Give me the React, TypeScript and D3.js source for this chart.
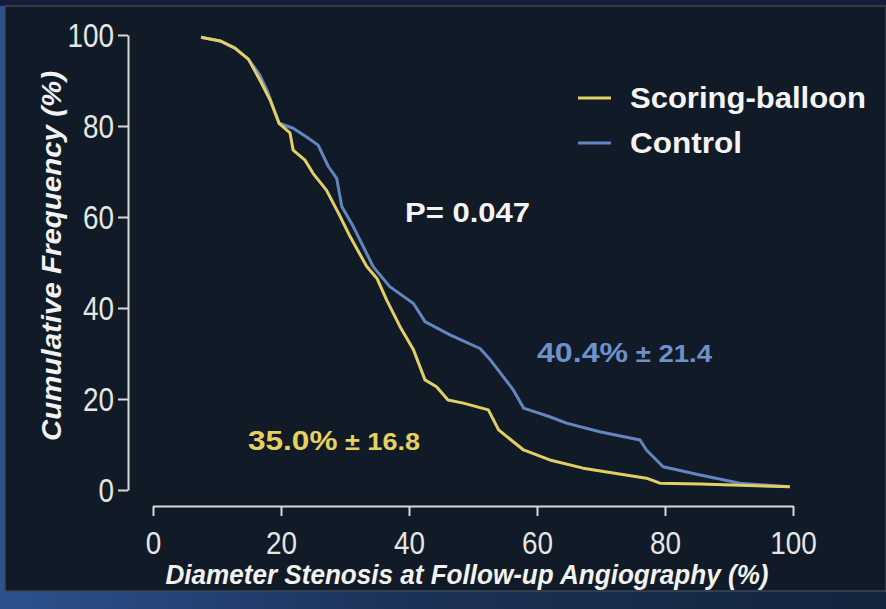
import React, { useEffect, useRef } from 'react';
import * as d3 from 'd3';

// cumulative frequency curves
const scoringX = [7.5, 10.5, 12.8, 14.9, 16.7, 18.3, 19.7, 21.4, 21.9, 23.75, 25.0, 27.1, 29.0, 30.8, 33.4, 35.0, 36.5, 38.6, 40.7, 42.5, 44.3, 46.1, 48.5, 52.4, 54.0, 57.9, 62.0, 67.2, 77.1, 79.2, 85.5, 99.5];
const scoringY = [99.5, 98.7, 97.1, 94.7, 90.1, 85.7, 80.6, 78.5, 74.7, 72.5, 69.6, 65.9, 60.8, 55.7, 49.1, 46.5, 41.8, 35.9, 30.8, 24.2, 22.7, 19.8, 19.1, 17.6, 13.2, 8.8, 6.6, 4.8, 2.6, 1.5, 1.3, 0.7];

const controlX = [7.5, 10.5, 12.8, 14.9, 16.7, 17.8, 19.7, 21.9, 24.0, 25.8, 27.4, 28.7, 29.5, 31.3, 34.4, 37.0, 40.7, 42.5, 46.4, 51.1, 52.7, 56.3, 57.9, 62.0, 64.6, 69.8, 76.1, 77.1, 79.7, 85.5, 91.7, 99.5];
const controlY = [99.5, 98.7, 97.1, 94.7, 91.2, 87.9, 80.6, 79.5, 77.6, 75.8, 71.1, 68.5, 62.3, 57.9, 49.1, 44.7, 41.0, 37.0, 34.1, 31.1, 28.6, 22.0, 18.0, 16.1, 14.7, 12.8, 11.0, 8.8, 5.1, 3.3, 1.5, 0.7];

const xTicks = [0, 20, 40, 60, 80, 100];
const yTicks = [0, 20, 40, 60, 80, 100];

const seriesNames = ['Scoring-balloon', 'Control'];
const seriesColors = ['#e3d064', '#6385c0'];

const SANS = '"Liberation Sans", Arial, sans-serif';

export default function App() {
  const svgRef = useRef<SVGSVGElement | null>(null);

  useEffect(() => {
    document.body.style.margin = '0';
    if (!svgRef.current) return;
    const W = 886;
    const H = 609;
    const svg = d3.select(svgRef.current);
    svg.selectAll('*').remove();
    svg.attr('width', W).attr('height', H);

    // slide background + frame
    const grad = svg.append('defs').append('linearGradient').attr('id', 'bottomGrad')
      .attr('x1', '0%').attr('x2', '100%');
    grad.append('stop').attr('offset', '0%').attr('stop-color', '#2c5290');
    grad.append('stop').attr('offset', '45%').attr('stop-color', '#1c3258');
    grad.append('stop').attr('offset', '100%').attr('stop-color', '#13243c');
    svg.append('rect').attr('width', W).attr('height', H).attr('fill', 'url(#bottomGrad)');
    svg.append('rect').attr('x', 0).attr('y', 0).attr('width', W).attr('height', 6).attr('fill', '#141c3a');
    svg.append('rect').attr('x', 5).attr('y', 6).attr('width', W - 5).attr('height', 585)
      .attr('fill', '#111b27').attr('stroke', '#3b4756').attr('stroke-width', 1.5);

    const x = d3.scaleLinear().domain([0, 100]).range([153, 793]);
    const y = d3.scaleLinear().domain([0, 100]).range([490, 35]);

    // condensed look for tick labels: squeeze each label to ~15.5px per digit
    const squeeze = (sel: d3.Selection<any, any, any, any>) => {
      sel.each(function () {
        const t = d3.select(this as SVGTextElement);
        t.attr('textLength', t.text().length * 15.5).attr('lengthAdjust', 'spacingAndGlyphs');
      });
    };

    // y axis
    const yAxis = svg.append('g').attr('transform', 'translate(128,0)')
      .call(d3.axisLeft(y).tickValues(yTicks).tickSize(10).tickSizeOuter(0).tickPadding(4));
    yAxis.select('.domain').attr('stroke', '#d9d9d9').attr('stroke-width', 2);
    yAxis.selectAll('line').attr('stroke', '#d9d9d9').attr('stroke-width', 2);
    yAxis.selectAll('text').attr('fill', '#e6e6e6').attr('font-size', 33).attr('font-family', SANS)
      .attr('dy', '0.36em').call(squeeze);

    // x axis
    const xAxis = svg.append('g').attr('transform', 'translate(0,506)')
      .call(d3.axisBottom(x).tickValues(xTicks).tickSize(10).tickSizeOuter(0).tickPadding(15));
    xAxis.select('.domain').attr('stroke', '#d9d9d9').attr('stroke-width', 2);
    xAxis.selectAll('line').attr('stroke', '#d9d9d9').attr('stroke-width', 2);
    xAxis.selectAll('text').attr('fill', '#e6e6e6').attr('font-size', 32).attr('font-family', SANS)
      .call(squeeze);

    // axis titles
    svg.append('text').attr('x', 467).attr('y', 584).attr('text-anchor', 'middle')
      .attr('fill', '#f2f2f2').attr('font-size', 27).attr('font-weight', 'bold').attr('font-style', 'italic')
      .attr('font-family', SANS).attr('textLength', 603).attr('lengthAdjust', 'spacingAndGlyphs')
      .text('Diameter Stenosis at Follow-up Angiography (%)');
    svg.append('text').attr('transform', 'translate(61,256) rotate(-90)').attr('text-anchor', 'middle')
      .attr('fill', '#f2f2f2').attr('font-size', 27).attr('font-weight', 'bold').attr('font-style', 'italic')
      .attr('font-family', SANS).attr('textLength', 370).attr('lengthAdjust', 'spacingAndGlyphs')
      .text('Cumulative Frequency (%)');

    // curves
    const line = d3.line<[number, number]>().x((d) => x(d[0])).y((d) => y(d[1]));
    const series = [
      d3.zip(scoringX, scoringY) as [number, number][],
      d3.zip(controlX, controlY) as [number, number][],
    ];
    // draw control first so scoring-balloon sits on top
    [1, 0].forEach((i) => {
      svg.append('path').datum(series[i]).attr('d', line).attr('fill', 'none')
        .attr('stroke', seriesColors[i]).attr('stroke-width', 3).attr('stroke-linejoin', 'round');
    });

    // legend
    seriesNames.forEach((name, i) => {
      const ly = 98 + i * 45;
      svg.append('line').attr('x1', 578).attr('x2', 611).attr('y1', ly).attr('y2', ly)
        .attr('stroke', seriesColors[i]).attr('stroke-width', 3);
      svg.append('text').attr('x', 630).attr('y', ly + 10).attr('fill', '#f4f4f4')
        .attr('font-size', 29).attr('font-weight', 'bold').attr('font-family', SANS)
        .attr('textLength', i === 0 ? 236 : 112).attr('lengthAdjust', 'spacingAndGlyphs')
        .text(name);
    });

    // annotations
    svg.append('text').attr('x', 405).attr('y', 222).attr('fill', '#f4f4f4')
      .attr('font-size', 27).attr('font-weight', 'bold').attr('font-family', SANS)
      .attr('textLength', 125).attr('lengthAdjust', 'spacingAndGlyphs').text('P= 0.047');

    const stat = (tx: number, ty: number, main: string, sd: string, color: string, len: number) => {
      const t = svg.append('text').attr('x', tx).attr('y', ty).attr('fill', color)
        .attr('font-weight', 'bold').attr('font-family', SANS)
        .attr('textLength', len).attr('lengthAdjust', 'spacingAndGlyphs');
      t.append('tspan').attr('font-size', 28).text(main);
      t.append('tspan').attr('font-size', 24).text(' ± ' + sd);
    };
    stat(537, 362, '40.4%', '21.4', '#6f90cb', 175);
    stat(248, 450, '35.0%', '16.8', '#e6d160', 172);
  }, []);

  return (
    <div style={{ width: 886, height: 609, overflow: 'hidden' }}>
      <svg ref={svgRef} style={{ display: 'block' }} />
    </div>
  );
}
